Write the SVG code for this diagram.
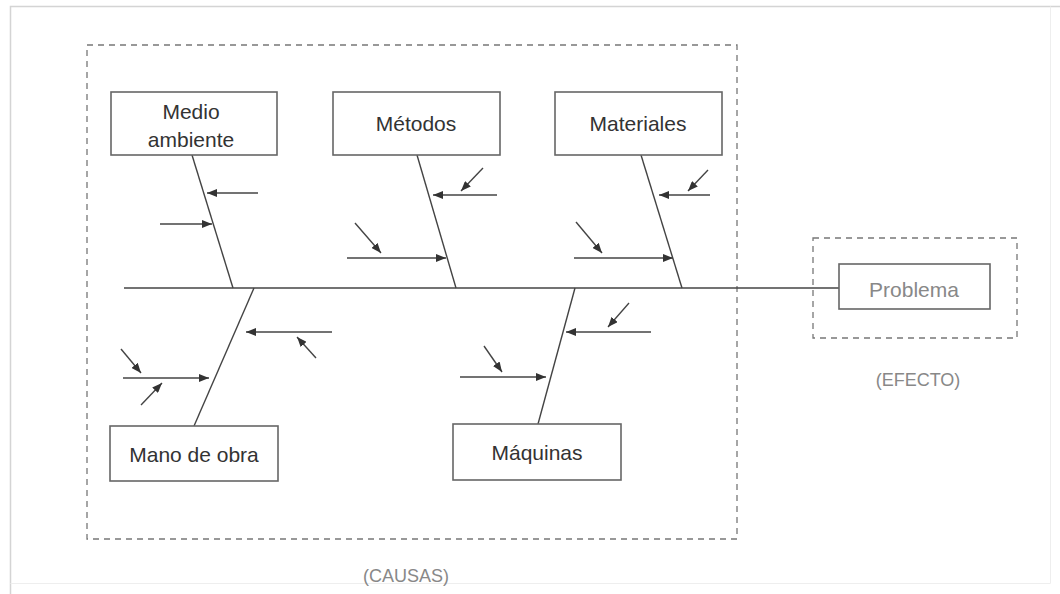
<svg xmlns="http://www.w3.org/2000/svg" width="1060" height="594" viewBox="0 0 1060 594">
<defs>
<marker id="ah" viewBox="0 0 10 8" refX="10" refY="4" markerWidth="10" markerHeight="8" markerUnits="userSpaceOnUse" orient="auto">
<path d="M0,0 L10,4 L0,8 Z" fill="#333"/>
</marker>
<style>
.box{fill:#fff;stroke:#666;stroke-width:1.6}
.dash{fill:none;stroke:#777;stroke-width:1.3;stroke-dasharray:6,5}
.bone{stroke:#444;stroke-width:1.4;fill:none}
.arr{stroke:#444;stroke-width:1.4;fill:none;marker-end:url(#ah)}
.t{font-family:"Liberation Sans",Arial,sans-serif;font-size:21px;fill:#333;text-anchor:middle}
.lt{font-family:"Liberation Sans",Arial,sans-serif;font-size:18px;fill:#888;text-anchor:middle}
</style>
</defs>
<rect width="1060" height="594" fill="#fff"/>
<path d="M10.5,594 V6.5 H1060" fill="none" stroke="#d4d4d4" stroke-width="1.5"/>
<path d="M1050.5,6.5 V583.5 H10.5" fill="none" stroke="#eeeeee" stroke-width="1"/>
<rect class="dash" x="87" y="45" width="650" height="494"/>
<rect class="dash" x="813" y="238" width="204" height="100"/>
<g id="connectors">
<line class="bone" x1="124" y1="288" x2="839" y2="288"/>
<line class="bone" x1="192" y1="155" x2="233" y2="288"/>
<line class="arr" x1="258" y1="193" x2="207" y2="193"/>
<line class="arr" x1="160" y1="224" x2="212" y2="224"/>
<line class="bone" x1="417" y1="155" x2="456" y2="288"/>
<line class="arr" x1="497" y1="195" x2="433" y2="195"/>
<line class="arr" x1="483" y1="168" x2="461" y2="191"/>
<line class="arr" x1="347" y1="258" x2="446" y2="258"/>
<line class="arr" x1="355" y1="223" x2="381" y2="253"/>
<line class="bone" x1="641" y1="155" x2="682" y2="288"/>
<line class="arr" x1="710" y1="195" x2="659" y2="195"/>
<line class="arr" x1="708" y1="170" x2="688" y2="191"/>
<line class="arr" x1="574" y1="258" x2="673" y2="258"/>
<line class="arr" x1="576" y1="222" x2="602" y2="253"/>
<line class="bone" x1="194" y1="426" x2="254" y2="288"/>
<line class="arr" x1="332" y1="332" x2="246" y2="332"/>
<line class="arr" x1="316" y1="358" x2="297" y2="337"/>
<line class="arr" x1="123" y1="378" x2="209" y2="378"/>
<line class="arr" x1="121" y1="349" x2="141" y2="373"/>
<line class="arr" x1="141" y1="405" x2="162" y2="383"/>
<line class="bone" x1="538" y1="424" x2="575" y2="288"/>
<line class="arr" x1="651" y1="332" x2="566" y2="332"/>
<line class="arr" x1="629" y1="303" x2="608" y2="327"/>
<line class="arr" x1="460" y1="377" x2="546" y2="377"/>
<line class="arr" x1="484" y1="346" x2="502" y2="372"/>
</g>
<g id="medio">
<rect class="box" x="111" y="92" width="166" height="63"/>
<text class="t" x="191" y="119">Medio</text>
<text class="t" x="191" y="147">ambiente</text>
</g>
<g id="metodos">
<rect class="box" x="333" y="92" width="167" height="63"/>
<text class="t" x="416" y="131">Métodos</text>
</g>
<g id="materiales">
<rect class="box" x="555" y="92" width="167" height="63"/>
<text class="t" x="638" y="131">Materiales</text>
</g>
<g id="mano">
<rect class="box" x="110" y="426" width="168" height="55"/>
<text class="t" x="194" y="462">Mano de obra</text>
</g>
<g id="maquinas">
<rect class="box" x="453" y="424" width="168" height="56"/>
<text class="t" x="537" y="460">Máquinas</text>
</g>
<g id="problema">
<rect class="box" x="839" y="264" width="151" height="45"/>
<text class="t" x="914" y="297" style="fill:#888">Problema</text>
</g>
<text class="lt" x="918" y="386">(EFECTO)</text>
<text class="lt" x="406" y="582">(CAUSAS)</text>
</svg>
